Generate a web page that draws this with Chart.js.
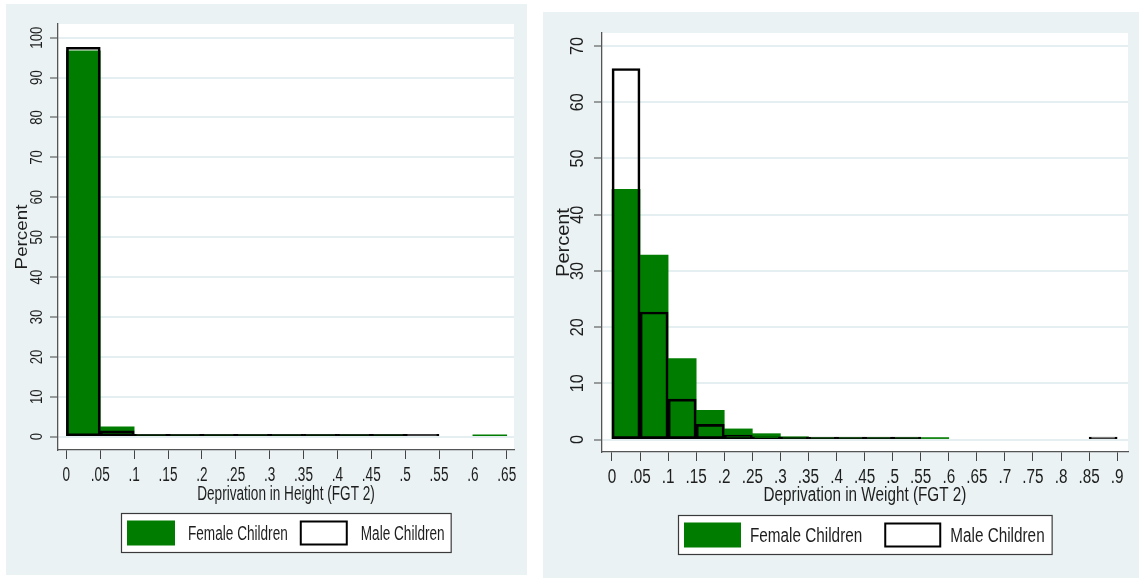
<!DOCTYPE html>
<html>
<head>
<meta charset="utf-8">
<script src="https://cdn.jsdelivr.net/npm/chart.js@4.4.1/dist/chart.umd.min.js"></script>
<style>
  html, body { margin: 0; padding: 0; background: #ffffff; }
  body { width: 1139px; height: 578px; position: relative; overflow: hidden; }
  .panel { position: absolute; background: #eaf2f3; }
  #panelHeight { left: 6px; top: 4px; width: 521px; height: 571px; }
  #panelWeight { left: 543px; top: 12px; width: 596px; height: 566px; }
  canvas { display: block; }
</style>
</head>
<body>
<div class="panel" id="panelHeight"><canvas id="chartHeight" width="521" height="571"></canvas></div>
<div class="panel" id="panelWeight"><canvas id="chartWeight" width="596" height="566"></canvas></div>
<script>
// ---- Deprivation in Height (FGT 2): bins of width .05, percent of children ----
const heightBinStarts = [0, 0.05, 0.1, 0.15, 0.2, 0.25, 0.3, 0.35, 0.4, 0.45, 0.5, 0.55, 0.6];
const heightFemale    = [96.7, 2.5, 0.35, 0.15, 0.05, 0.05, 0.05, 0.05, 0.05, 0.05, null, null, 0.1];
const heightMale      = [97.6, 1.5, 0.5, 0.2, 0.1, 0.1, 0.1, 0.1, 0.1, 0.1, 0.1, null, null];
const heightXTicks    = [0, 0.05, 0.1, 0.15, 0.2, 0.25, 0.3, 0.35, 0.4, 0.45, 0.5, 0.55, 0.6, 0.65];
const heightXLabels   = ["0", ".05", ".1", ".15", ".2", ".25", ".3", ".35", ".4", ".45", ".5", ".55", ".6", ".65"];
const heightYTicks    = [0, 10, 20, 30, 40, 50, 60, 70, 80, 90, 100];
const heightYLabels   = ["0", "10", "20", "30", "40", "50", "60", "70", "80", "90", "100"];

// ---- Deprivation in Weight (FGT 2) ----
const weightBinStarts = [0, 0.05, 0.1, 0.15, 0.2, 0.25, 0.3, 0.35, 0.4, 0.45, 0.5, 0.55, 0.6, 0.65, 0.7, 0.75, 0.8, 0.85];
const weightFemale    = [44.5, 32.8, 14.4, 5.2, 1.9, 1.05, 0.5, 0.15, 0.1, 0.1, 0.1, 0.05, null, null, null, null, null, null];
const weightMale      = [66.0, 22.7, 7.2, 2.7, 0.8, 0.5, 0.2, 0.1, 0.1, 0.1, 0.05, null, null, null, null, null, null, 0.1];
const weightXTicks    = [0, 0.05, 0.1, 0.15, 0.2, 0.25, 0.3, 0.35, 0.4, 0.45, 0.5, 0.55, 0.6, 0.65, 0.7, 0.75, 0.8, 0.85, 0.9];
const weightXLabels   = ["0", ".05", ".1", ".15", ".2", ".25", ".3", ".35", ".4", ".45", ".5", ".55", ".6", ".65", ".7", ".75", ".8", ".85", ".9"];
const weightYTicks    = [0, 10, 20, 30, 40, 50, 60, 70];
const weightYLabels   = ["0", "10", "20", "30", "40", "50", "60", "70"];

const seriesNames = ["Female Children", "Male Children"];
const yAxisTitle = "Percent";
const BIN_WIDTH = 0.05;

const FONT = '"Liberation Sans", Arial, sans-serif';
const GREEN = '#007c00';
const TEXT = '#1e1e1e';
const AXIS = '#555555';
const GRID = '#e5eef0';

// Condensed text rendering: horizontal strings squeezed by kH, rotated ones by kR.
function narrowText(ctx, kH, kR) {
  const fill = ctx.fillText.bind(ctx);
  const measure = ctx.measureText.bind(ctx);
  ctx.rawFillText = fill;
  ctx.fillText = function (text, x, y, maxWidth) {
    const t = ctx.getTransform();
    const k = Math.abs(t.b) > Math.abs(t.a) ? kR : kH;
    ctx.save();
    ctx.translate(x, y);
    ctx.scale(k, 1);
    if (maxWidth !== undefined && maxWidth !== null) fill(text, 0, 0, maxWidth / k);
    else fill(text, 0, 0);
    ctx.restore();
  };
  ctx.measureText = function (text) {
    const m = measure(text);
    return {
      width: m.width * kH,
      actualBoundingBoxLeft: m.actualBoundingBoxLeft * kH,
      actualBoundingBoxRight: m.actualBoundingBoxRight * kH,
      actualBoundingBoxAscent: m.actualBoundingBoxAscent,
      actualBoundingBoxDescent: m.actualBoundingBoxDescent
    };
  };
}

function toPoints(starts, values) {
  const pts = [];
  starts.forEach((s, i) => {
    if (values[i] !== null) pts.push({ x: s + BIN_WIDTH / 2, y: values[i] });
  });
  return pts;
}

// white plot region
const plotRegion = {
  id: 'plotRegion',
  beforeDraw(chart) {
    const { ctx, chartArea: a } = chart;
    ctx.save();
    ctx.fillStyle = '#ffffff';
    ctx.fillRect(a.left, a.top, a.right - a.left, a.bottom - a.top);
    ctx.restore();
  }
};

// vertical axis title, stretched along its length
const axisTitle = {
  id: 'axisTitle',
  afterDraw(chart, args, o) {
    const { ctx, chartArea: a } = chart;
    ctx.save();
    ctx.translate(o.x, (a.top + a.bottom) / 2);
    ctx.rotate(-Math.PI / 2);
    ctx.scale(o.stretch, 1);
    ctx.font = `${o.size}px ${FONT}`;
    ctx.fillStyle = TEXT;
    ctx.textAlign = 'center';
    ctx.textBaseline = 'middle';
    ctx.rawFillText(o.text, 0, 0);
    ctx.restore();
  }
};

// framed legend centred below the plot region
const boxLegend = {
  id: 'boxLegend',
  afterDraw(chart, args, o) {
    const { ctx, chartArea: a } = chart;
    const ds = chart.data.datasets;
    ctx.save();
    ctx.font = `${o.fontSize}px ${FONT}`;
    const widths = ds.map(d => ctx.measureText(d.label).width);
    let total = o.padL + o.padR + o.itemGap * (ds.length - 1);
    widths.forEach(w => { total += o.swatchW + o.gap + w; });
    const left = Math.round((a.left + a.right) / 2 - total / 2);
    const top = Math.round(a.bottom + o.offsetTop);
    ctx.fillStyle = '#ffffff';
    ctx.fillRect(left, top, total, o.height);
    ctx.strokeStyle = '#3a3a3a';
    ctx.lineWidth = 1.2;
    ctx.strokeRect(left + 0.5, top + 0.5, total - 1, o.height - 1);
    let x = left + o.padL;
    const sy = top + (o.height - o.swatchH) / 2;
    ds.forEach((d, i) => {
      if (d.backgroundColor === 'rgba(0,0,0,0)') {
        ctx.fillStyle = '#ffffff';
        ctx.fillRect(x, sy, o.swatchW, o.swatchH);
        ctx.strokeStyle = '#000000';
        ctx.lineWidth = 2;
        ctx.strokeRect(x + 1, sy + 1, o.swatchW - 2, o.swatchH - 2);
      } else {
        ctx.fillStyle = d.backgroundColor;
        ctx.fillRect(x, sy, o.swatchW, o.swatchH);
      }
      ctx.fillStyle = TEXT;
      ctx.textBaseline = 'middle';
      ctx.textAlign = 'left';
      ctx.fillText(d.label, x + o.swatchW + o.gap, top + o.height / 2 + 1);
      x += o.swatchW + o.gap + widths[i] + o.itemGap;
    });
    ctx.restore();
  }
};

function makeHistogram(id, s) {
  const ctx = document.getElementById(id).getContext('2d');
  narrowText(ctx, s.kH, s.kR);
  return new Chart(ctx, {
    type: 'bar',
    data: {
      datasets: [
        {
          label: seriesNames[0],
          data: toPoints(s.starts, s.female),
          backgroundColor: GREEN,
          borderWidth: 0,
          minBarLength: 2,
          order: 1
        },
        {
          label: seriesNames[1],
          data: toPoints(s.starts, s.male),
          backgroundColor: 'rgba(0,0,0,0)',
          borderColor: '#000000',
          borderWidth: 2,
          borderSkipped: false,
          minBarLength: 2.5,
          order: 0
        }
      ]
    },
    options: {
      responsive: false,
      animation: false,
      devicePixelRatio: 1,
      grouped: false,
      barPercentage: 1,
      categoryPercentage: 1,
      layout: { padding: s.padding },
      plugins: {
        legend: { display: false },
        tooltip: { enabled: false },
        boxLegend: s.legend,
        axisTitle: s.yTitle
      },
      scales: {
        x: {
          type: 'linear',
          min: s.xMin, max: s.xMax,
          offset: false,
          grid: { display: true, offset: false, drawOnChartArea: false, tickLength: 9, tickColor: '#444', tickWidth: 1 },
          border: { display: true, color: AXIS, width: 1.3 },
          afterBuildTicks: sc => { sc.ticks = s.xTicks.map(v => ({ value: v })); },
          afterFit: sc => { sc.height = 58; },
          ticks: {
            autoSkip: false, maxRotation: 0, minRotation: 0, padding: s.xTickPad,
            color: TEXT, font: { family: FONT, size: s.xTickSize },
            callback: (v, i) => s.xLabels[i]
          },
          title: {
            display: true, text: s.xTitle, color: TEXT,
            font: { family: FONT, size: s.titleSize },
            padding: { top: 0, bottom: s.xTitlePad }
          }
        },
        y: {
          type: 'linear',
          min: s.yMin, max: s.yMax,
          grid: { color: GRID, lineWidth: 2, tickLength: 8, tickColor: '#444', tickWidth: 1 },
          border: { display: true, color: AXIS, width: 1.3 },
          afterBuildTicks: sc => { sc.ticks = s.yTicks.map(v => ({ value: v })); },
          afterFit: sc => { sc.width = s.yWidth; },
          ticks: {
            minRotation: 90, maxRotation: 90, crossAlign: 'center', padding: s.yTickPad,
            color: TEXT, font: { family: FONT, size: s.yTickSize },
            callback: (v, i) => s.yLabels[i]
          },
          title: { display: false }
        }
      }
    },
    plugins: [plotRegion, boxLegend, axisTitle]
  });
}

makeHistogram('chartHeight', {
  starts: heightBinStarts, female: heightFemale, male: heightMale,
  xTicks: heightXTicks, xLabels: heightXLabels, yTicks: heightYTicks, yLabels: heightYLabels,
  xMin: -0.0124, xMax: 0.6607, yMin: -3.33, yMax: 103.43,
  padding: { left: 0, top: 20, right: 13, bottom: 67 },
  kH: 0.68, kR: 0.82,
  yWidth: 52, yTickPad: 3.4, xTickPad: 4.5, xTitlePad: 2,
  xTickSize: 20, yTickSize: 16, titleSize: 20,
  xTitle: 'Deprivation in Height (FGT 2)',
  yTitle: { text: yAxisTitle, x: 16, size: 16.5, stretch: 1.14 },
  legend: { fontSize: 20, offsetTop: 63, height: 40, swatchW: 48, swatchH: 25, gap: 13, itemGap: 12, padL: 6, padR: 7 }
});

makeHistogram('chartWeight', {
  starts: weightBinStarts, female: weightFemale, male: weightMale,
  xTicks: weightXTicks, xLabels: weightXLabels, yTicks: weightYTicks, yLabels: weightYLabels,
  xMin: -0.0178, xMax: 0.9193, yMin: -2.21, yMax: 72.32,
  padding: { left: 0, top: 21, right: 11, bottom: 68 },
  kH: 0.765, kR: 0.875,
  yWidth: 59, yTickPad: 8.1, xTickPad: 4, xTitlePad: 2.5,
  xTickSize: 20, yTickSize: 18.5, titleSize: 20,
  xTitle: 'Deprivation in Weight (FGT 2)',
  yTitle: { text: yAxisTitle, x: 21, size: 17.5, stretch: 1.14 },
  legend: { fontSize: 20, offsetTop: 63, height: 40, swatchW: 57, swatchH: 25, gap: 9, itemGap: 22, padL: 6, padR: 8 }
});
</script>
</body>
</html>
